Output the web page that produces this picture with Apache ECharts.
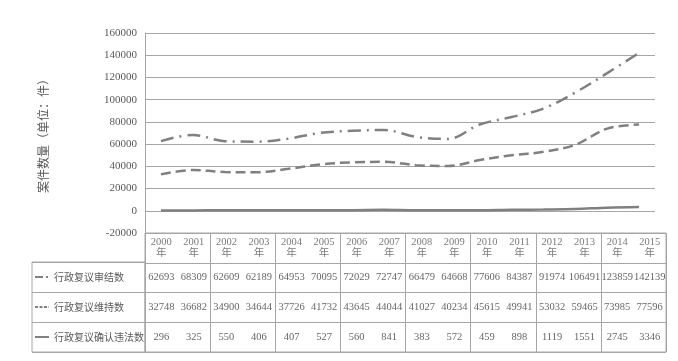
<!DOCTYPE html>
<html><head><meta charset="utf-8">
<script src="https://cdn.jsdelivr.net/npm/echarts@6/dist/echarts.min.js"></script>
<style>html,body{margin:0;padding:0;background:#fff}#c{width:678px;height:361px}</style>
</head><body><div id="c"></div>
<script>
const years = ['2000','2001','2002','2003','2004','2005','2006','2007','2008','2009','2010','2011','2012','2013','2014','2015'];
const yearUnit = '年';
const seriesNames = ['行政复议审结数','行政复议维持数','行政复议确认违法数'];
const closedCases = [62693,68309,62609,62189,64953,70095,72029,72747,66479,64668,77606,84387,91974,106491,123859,142139];
const upheldCases = [32748,36682,34900,34644,37726,41732,43645,44044,41027,40234,45615,49941,53032,59465,73985,77596];
const illegalCases = [296,325,550,406,407,527,560,841,383,572,459,898,1119,1551,2745,3346];
const yMin = -20000, yMax = 160000, yStep = 20000;
const yAxisName = '案件数量（单位：件）';

const allSeries = [closedCases, upheldCases, illegalCases];
const lineColor = '#808080';
const gridColor = '#a6a6a6';
const textColor = '#595959';
const serif = '"Liberation Serif", "Noto Sans CJK SC", serif';
const cjk = '"Noto Sans CJK SC", sans-serif';

const headerData = years.map((y, i) => ({ value: [i, 0], text: y + '\n' + yearUnit }));
const bodyData = [];
allSeries.forEach((arr, r) => arr.forEach((v, i) => bodyData.push({ value: [i, r + 1], text: String(v) })));

const dashes = [[13, 6, 2, 6], [10, 5], null];
const legendDashes = [[8, 3, 2, 3], [3, 1.5], 'solid'];

const chart = echarts.init(document.getElementById('c'), null, { renderer: 'canvas' });
chart.setOption({
  animation: false,
  backgroundColor: '#fff',
  grid: [
    { left: 145, right: 23, top: 33, height: 200, show: false },
    { left: 145, right: 12, top: 233, height: 119, show: true, borderColor: gridColor, borderWidth: 1 },
    { left: 32, width: 113, top: 262, height: 90, show: true, borderColor: gridColor, borderWidth: 1 }
  ],
  legend: {
    orient: 'vertical', left: 29, top: 267, itemWidth: 14, itemHeight: 10, itemGap: 20,
    textStyle: { fontFamily: cjk, fontSize: 10, color: textColor },
    data: seriesNames.map((n, k) => ({ name: n, itemStyle: { opacity: 0 },
      lineStyle: { type: legendDashes[k], width: 2, color: lineColor } }))
  },
  xAxis: [
    { gridIndex: 0, type: 'category', data: years, boundaryGap: true, axisLine: { show: false }, axisTick: { show: false }, axisLabel: { show: false } },
    { gridIndex: 1, type: 'category', data: years, boundaryGap: true, axisLine: { show: false }, axisTick: { show: false }, axisLabel: { show: false },
      splitLine: { show: true, lineStyle: { color: gridColor, width: 1 } } },
    { gridIndex: 2, type: 'value', show: false }
  ],
  yAxis: [
    { gridIndex: 0, type: 'value', min: yMin, max: yMax, interval: yStep,
      name: yAxisName, nameLocation: 'middle', nameRotate: 90, nameGap: 96,
      nameTextStyle: { fontFamily: cjk, fontSize: 12, color: textColor },
      axisLine: { show: true, lineStyle: { color: gridColor, width: 1 } }, axisTick: { show: false },
      axisLabel: { margin: 8, fontFamily: serif, fontSize: 11, color: textColor, formatter: v => String(v) },
      splitLine: { show: true, lineStyle: { color: gridColor, width: 1 } } },
    { gridIndex: 1, type: 'category', data: ['h', 'r1', 'r2', 'r3'], inverse: true, boundaryGap: true,
      axisLine: { show: false }, axisTick: { show: false }, axisLabel: { show: false },
      splitLine: { show: true, lineStyle: { color: gridColor, width: 1 } } },
    { gridIndex: 2, type: 'category', data: ['r1', 'r2', 'r3'], inverse: true, boundaryGap: true,
      axisLine: { show: false }, axisTick: { show: false }, axisLabel: { show: false },
      splitLine: { show: true, lineStyle: { color: gridColor, width: 1 } } }
  ],
  series: [
    ...allSeries.map((arr, k) => ({
      name: seriesNames[k], type: 'line', xAxisIndex: 0, yAxisIndex: 0, data: arr,
      smooth: 0.35, symbol: 'none', color: lineColor,
      lineStyle: { color: lineColor, width: 2.5, type: dashes[k] || 'solid' }
    })),
    { type: 'scatter', xAxisIndex: 1, yAxisIndex: 1, data: headerData, symbolSize: 1,
      itemStyle: { color: 'transparent' }, silent: true,
      label: { show: true, position: 'inside', formatter: p => p.data.text, fontFamily: serif, fontSize: 10.5, lineHeight: 11, color: textColor } },
    { type: 'scatter', xAxisIndex: 1, yAxisIndex: 1, data: bodyData, symbolSize: 1,
      itemStyle: { color: 'transparent' }, silent: true,
      label: { show: true, position: 'inside', formatter: p => p.data.text, fontFamily: serif, fontSize: 10.5, color: '#404040' } }
  ]
});
</script></body></html>
